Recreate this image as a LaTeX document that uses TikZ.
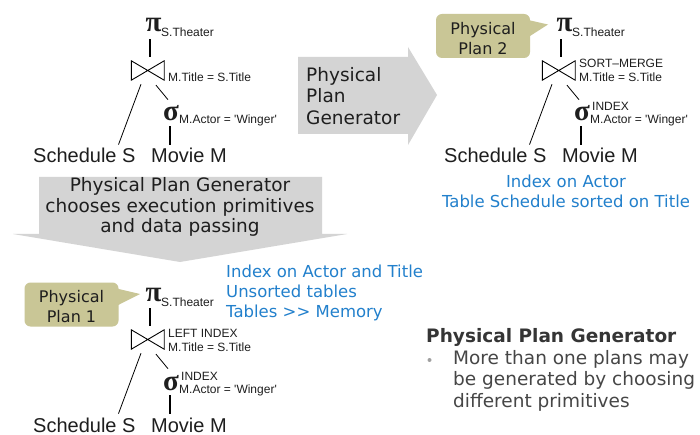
\documentclass[tikz,border=0pt]{standalone}
\usepackage{fontspec}
\setmainfont{DejaVu Sans}
\newfontfamily\relfont{Liberation Sans}
\newfontfamily\opfont{Liberation Serif}

\definecolor{arrowgray}{RGB}{212,212,212}
\definecolor{calloutfill}{RGB}{201,198,150}
\definecolor{noteblue}{RGB}{34,128,204}
\definecolor{inktext}{RGB}{30,30,30}
\definecolor{bodytext}{RGB}{70,70,70}
\definecolor{bulletgray}{RGB}{160,160,160}

\tikzset{
  op/.style={font=\opfont\bfseries\fontsize{29}{29}\selectfont, inner sep=0pt, anchor=base, text=inktext},
  small/.style={font=\relfont\fontsize{12}{14}\selectfont, inner sep=0pt, anchor=base west, text=inktext},
  relname/.style={font=\relfont\fontsize{20}{22}\selectfont, inner sep=0pt, anchor=base west, text=inktext},
  joinbox/.style={minimum width=32.5pt, minimum height=19pt, inner sep=0pt},
  joinline/.style={line width=0.9pt, line join=miter},
  branch/.style={line width=0.8pt},
  stem/.style={line width=1.8pt},
  note/.style={font=\fontsize{16.5}{20}\selectfont, inner sep=0pt, text=noteblue},
  arrowtext/.style={font=\fontsize{18.5}{21}\selectfont, inner sep=0pt, text=inktext},
  callout/.style={fill=calloutfill, rounded corners=6pt, minimum width=94pt, minimum height=44pt,
    inner sep=0pt},
  callouttext/.style={font=\fontsize{16}{20}\selectfont, inner sep=0pt, anchor=base, text=inktext},
  bodyline/.style={font=\fontsize{18.5}{21.5}\selectfont, inner sep=0pt, anchor=base west, text=bodytext},
}

% Query tree: #1 name prefix, #2 shift, #3 join method, #4 selection access method
\newcommand\plantree[4]{%
\begin{scope}[shift={#2}]
  \node[op] (#1pi) at (153.5,32) {π};
  \node[small] (#1proj) at (161,37) {S.Theater};
  \node[joinbox] (#1join) at (147.75,70.5) {};
  \draw[joinline] (#1join.north west) -- (#1join.south east) -- (#1join.north east)
                  -- (#1join.south west) -- cycle;
  \node[small] (#1cond) at (168,82) {M.Title = S.Title};
  \if\relax\detokenize{#3}\relax\else
    \node[small] (#1meth) at (168,68) {#3};
  \fi
  \node[op] (#1sigma) at (171,121) {σ};
  \node[small] (#1sel) at (179,124) {M.Actor = \textquotesingle Winger\textquotesingle};
  \if\relax\detokenize{#4}\relax\else
    \node[small] (#1idx) at (181,111) {#4};
  \fi
  \node[relname] (#1sched) at (33,163) {Schedule S};
  \node[relname] (#1movie) at (151,163) {Movie M};
  \draw[stem, shorten <=7pt, shorten >=4pt]
    ([xshift=-3.5pt]#1pi.south) -- ([xshift=2.25pt]#1join.north);
  \draw[branch] ([xshift=-6.75pt,yshift=-4pt]#1join.south)
    -- ([xshift=-17.2pt,yshift=3.7pt]#1sched.north east);
  \draw[branch] ([xshift=8.25pt,yshift=-5pt]#1join.south)
    -- ([xshift=-3pt,yshift=6pt]#1sigma.north);
  \draw[stem, shorten <=5pt, shorten >=3.7pt]
    ([xshift=-1pt]#1sigma.south) -- ([xshift=19pt]#1movie.north west);
\end{scope}}

\begin{document}
\begin{tikzpicture}[x=1pt, y=-1pt]
  \useasboundingbox (0,0) rectangle (700,435);
  \fill[white] (0,0) rectangle (700,435);

  % block arrows
  \fill[arrowgray] (298,57) -- (408,57) -- (408,47) -- (437,95) -- (408,145)
                   -- (408,134) -- (298,134) -- cycle;
  \fill[arrowgray] (39,177) -- (322,177) -- (322,234) -- (347,234) -- (180,262)
                   -- (13,234) -- (39,234) -- cycle;
  \node[arrowtext, anchor=base west] (ga1) at (306,82) {Physical};
  \node[arrowtext, anchor=base west] (ga2) at (306,103) {Plan};
  \node[arrowtext, anchor=base west] (ga3) at (306,125) {Generator};
  \node[arrowtext, anchor=base] (gb1) at (180,192) {Physical Plan Generator};
  \node[arrowtext, anchor=base] (gb2) at (180,213) {chooses execution primitives};
  \node[arrowtext, anchor=base] (gb3) at (180,233) {and data passing};

  % logical plan and the two physical plans
  \plantree{lp}{(0,0)}{}{}
  \plantree{pa}{(411,0)}{SORT–MERGE}{INDEX}
  \plantree{pb}{(0,269)}{LEFT INDEX}{INDEX}

  % callouts
  \node[callout] (cb) at (483,36) {};
  \fill[calloutfill] ([xshift=-3pt,yshift=-6pt]cb.north east) -- (548,24.5)
                     -- ([xshift=-3pt,yshift=-24pt]cb.north east) -- cycle;
  \node[callouttext] (cb1) at (483,34.3) {Physical};
  \node[callouttext] (cb2) at (483,54.3) {Plan 2};
  \node[callout] (ca) at (71.5,304.5) {};
  \fill[calloutfill] ([xshift=-3pt,yshift=-6pt]ca.north east) -- (140,294)
                     -- ([xshift=-3pt,yshift=-24pt]ca.north east) -- cycle;
  \node[callouttext] (ca1) at (71.5,302.3) {Physical};
  \node[callouttext] (ca2) at (71.5,322.3) {Plan 1};

  % plan assumptions
  \node[note, anchor=base] (na1) at (566,188) {Index on Actor};
  \node[note, anchor=base] (na2) at (566,208) {Table Schedule sorted on Title};
  \node[note, anchor=base west] (nb1) at (226,277) {Index on Actor and Title};
  \node[note, anchor=base west] (nb2) at (226,297) {Unsorted tables};
  \node[note, anchor=base west] (nb3) at (226,317) {Tables >{}> Memory};

  % summary
  \node[bodyline, font=\bfseries\fontsize{18.5}{21.5}\selectfont, text=inktext!90!white]
    (head) at (426,342) {Physical Plan Generator};
  \node[circle, fill=bulletgray, minimum size=4pt, inner sep=0pt] (dot) at (429.5,360) {};
  \node[bodyline] (bl1) at (453,364) {More than one plans may};
  \node[bodyline] (bl2) at (453,385.5) {be generated by choosing};
  \node[bodyline] (bl3) at (453,407) {different primitives};
\end{tikzpicture}
\end{document}
